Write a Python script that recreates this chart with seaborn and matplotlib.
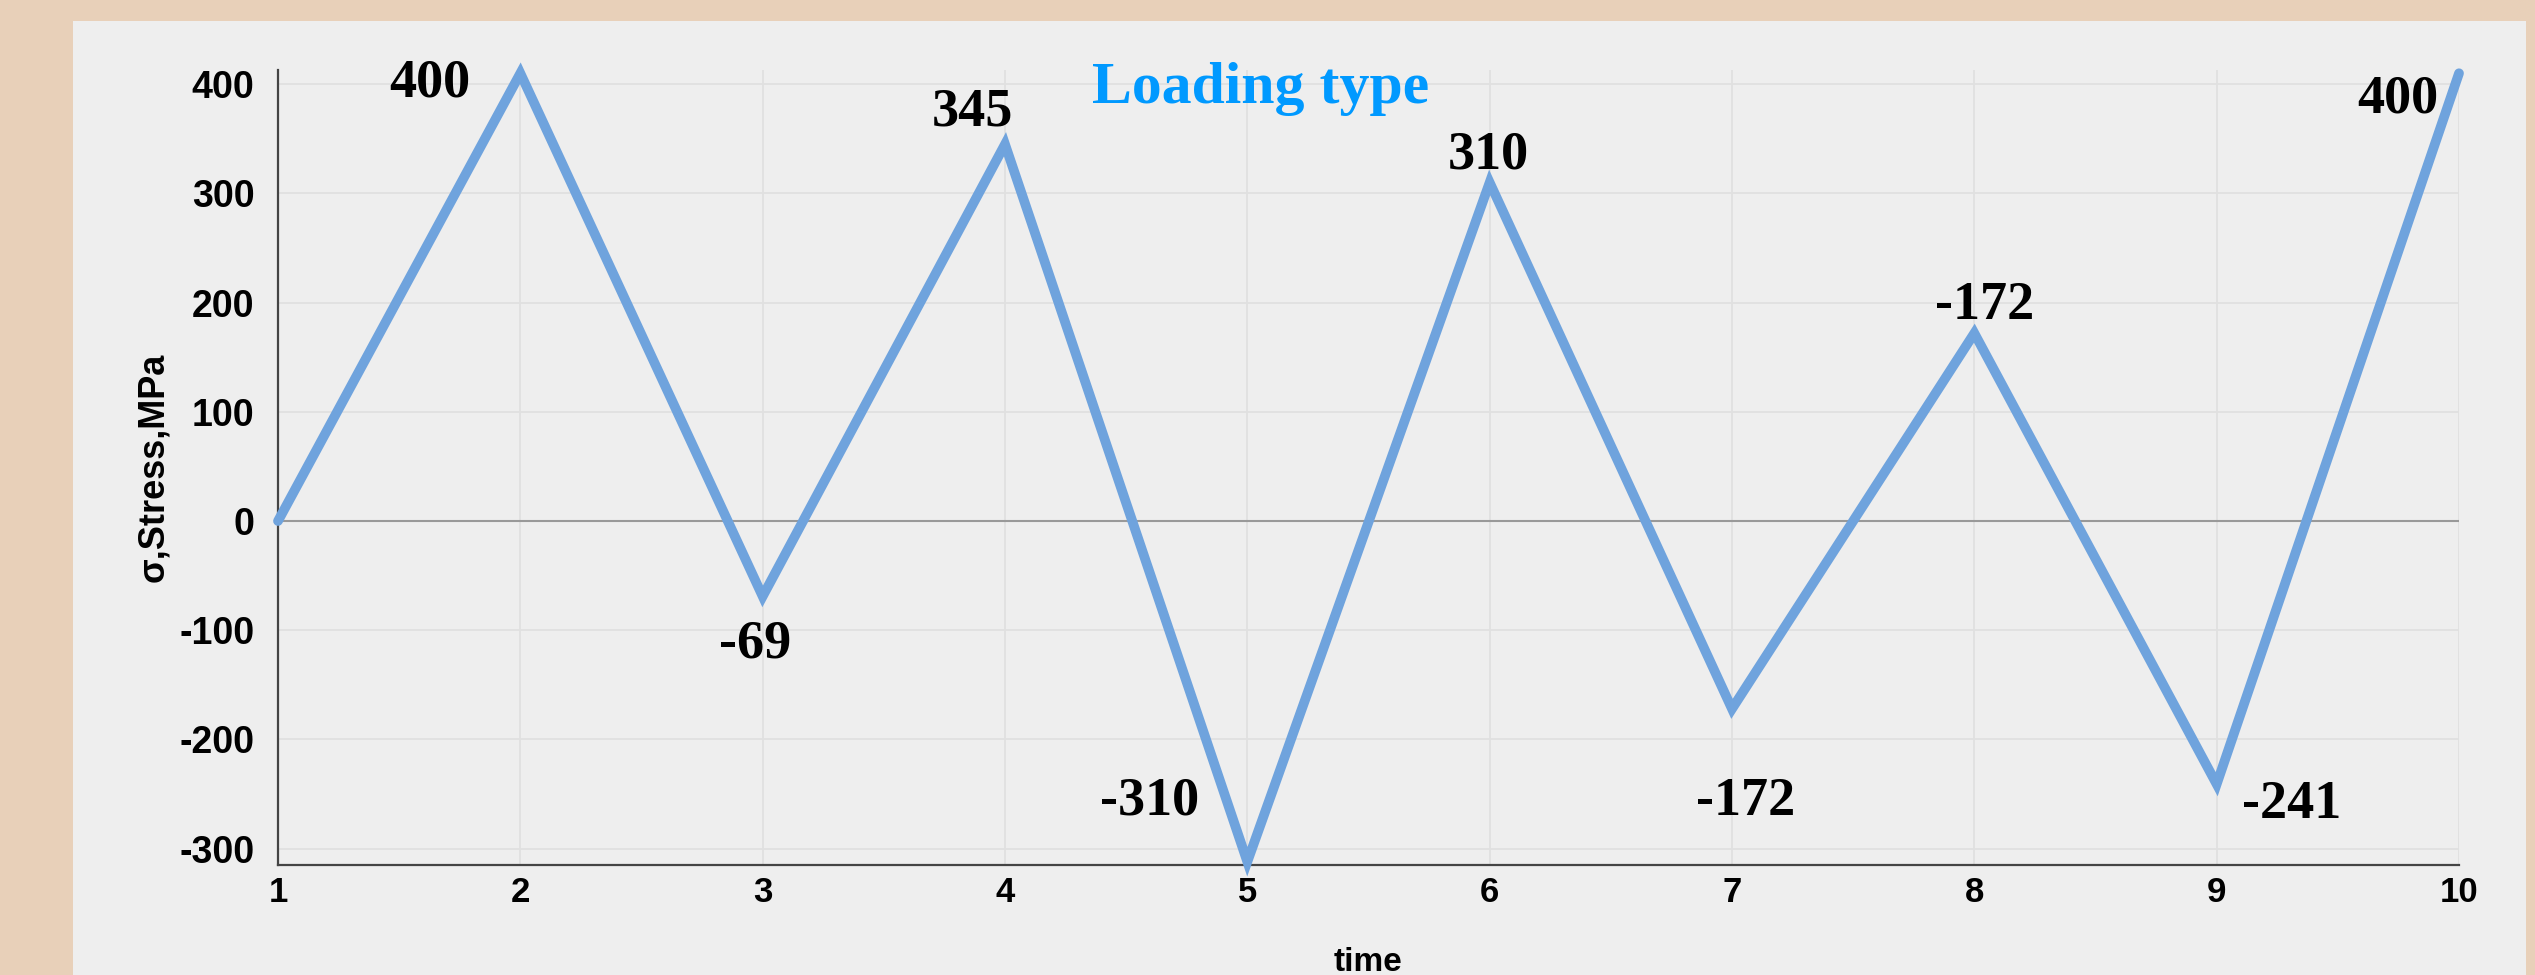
import matplotlib
matplotlib.use("Agg")
import matplotlib.pyplot as plt
import pandas as pd
import seaborn as sns
from matplotlib.patches import Rectangle

# values
time = [1, 2, 3, 4, 5, 6, 7, 8, 9, 10]
stress = [0, 410, -69, 345, -312, 310, -172, 172, -241, 410]
point_labels = ["", "400", "-69", "345", "-310", "310", "-172", "-172", "-241", "400"]
y_ticks = [400, 300, 200, 100, 0, -100, -200, -300]

# where each label sits relative to its point (pixels, baseline)
label_offsets = [(0, 0), (-91, -23), (-8, -61), (-33, 19), (-98, 47),
                 (-1, 14), (14, -106), (10, 14), (75, -34), (-61, -39)]

sns.set_style("whitegrid")
plt.rcParams['font.family'] = ['Liberation Sans', 'DejaVu Sans']
plt.rcParams['axes.unicode_minus'] = False
plt.rcParams['text.color'] = 'black'
plt.rcParams['axes.labelcolor'] = 'black'
plt.rcParams['xtick.color'] = 'black'
plt.rcParams['ytick.color'] = 'black'

W, H = 2535, 975
fig = plt.figure(figsize=(W / 100, H / 100), dpi=100, facecolor='#e8d0b9')
# light grey card on the beige background
card = Rectangle((73 / W, 0), (2526 - 73) / W, 1 - 21 / H,
                 transform=fig.transFigure, facecolor='#eeeeee',
                 edgecolor='none', zorder=-5)
fig.add_artist(card)

ax = fig.add_axes([278 / W, 1 - 865 / H, (2459 - 278) / W, (865 - 70) / H])
ax.set_facecolor('#eeeeee')

df = pd.DataFrame({'time': time, 'stress': stress})
sns.lineplot(data=df, x='time', y='stress', ax=ax, color='#6fa3dd',
             linewidth=7, solid_joinstyle='miter', clip_on=False, zorder=3)

ax.set_xlim(1, 10)
ax.set_ylim(-315, 413)
ax.set_xticks(time)
ax.set_yticks(y_ticks)
ax.grid(True, color='#e0e0e0', linewidth=1.3)
ax.axhline(0, color='#999999', linewidth=1.5, zorder=2)

for side in ['top', 'right']:
    ax.spines[side].set_visible(False)
for side in ['left', 'bottom']:
    ax.spines[side].set_color('#444444')
    ax.spines[side].set_linewidth(1.6)

ax.tick_params(axis='x', length=0, pad=8, labelsize=25)
ax.tick_params(axis='y', length=0, pad=17, labelsize=27)
plt.setp(ax.get_xticklabels() + ax.get_yticklabels(), fontweight='bold')

ax.set_xlabel('time', fontsize=24, fontweight='bold', labelpad=27)
ax.set_ylabel('σ,Stress,MPa', fontsize=26, fontweight='bold', labelpad=6)

for x, y, txt, (dx, dy) in zip(time, stress, point_labels, label_offsets):
    if txt:
        ax.annotate(txt, (x, y), xytext=(dx, dy), textcoords='offset pixels',
                    ha='center', va='baseline', fontsize=39, fontweight='bold',
                    color='black', family=['Liberation Serif', 'DejaVu Serif'],
                    zorder=4, annotation_clip=False)

fig.text(1261 / W, 1 - 103 / H, 'Loading type', color='#0099ff', fontsize=43,
         fontweight='bold', family=['Liberation Serif', 'DejaVu Serif'],
         ha='center', va='baseline')

fig.savefig('out.png', dpi=100, facecolor=fig.get_facecolor())
